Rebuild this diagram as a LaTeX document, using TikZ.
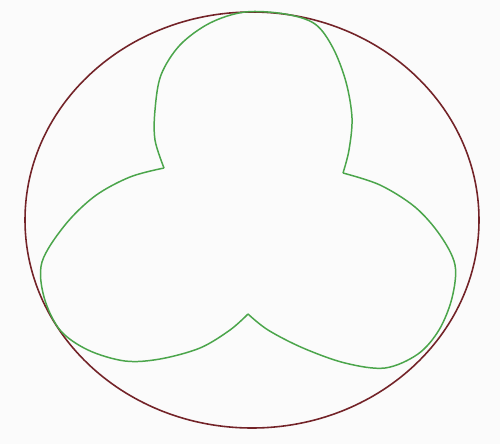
\documentclass[tikz,border=0pt]{standalone}
\usepackage{tikz}
\usetikzlibrary{calc}

\definecolor{rimred}{RGB}{115,35,40}
\definecolor{lobegreen}{RGB}{75,165,75}

\begin{document}
\begin{tikzpicture}[
    x=0.02cm, y=-0.02cm,
    rim/.style={draw=rimred, line width=0.9pt},
    lobe/.style={draw=lobegreen, line width=0.85pt, line join=round},
  ]
  % Frame (pixel grid of the picture)
  \fill[white!97!gray] (0,0) rectangle (500,444);
  \useasboundingbox (0,0) rectangle (500,444);

  % Outer circle
  \coordinate (O) at (252,220);
  \draw[rim] (O) ellipse [x radius=227, y radius=208];

  % Cusps of the trefoil
  \coordinate (Cl) at (164,168);
  \coordinate (Cr) at (343,173);
  \coordinate (Cb) at (248,314);

  % Top lobe
  \draw[lobe] plot[smooth, tension=0.55] coordinates {
    (Cl) (155,140) (155,110) (161,75) (180,45)
    (210,23) (245,12) (285,14) (315,24) (333,48)
    (346,82) (352,118) (349,150) (Cr)};

  % Right lobe
  \draw[lobe] plot[smooth, tension=0.55] coordinates {
    (Cr) (380,185) (415,207) (440,235) (455,265)
    (452,298) (439,330) (418,354) (385,368)
    (345,363) (303,348) (268,330) (Cb)};

  % Left lobe
  \draw[lobe] plot[smooth, tension=0.55] coordinates {
    (Cl) (130,177) (95,196) (65,225) (42,262)
    (44,297) (60,330) (88,350) (125,361)
    (160,359) (200,348) (230,330) (Cb)};
\end{tikzpicture}
\end{document}
